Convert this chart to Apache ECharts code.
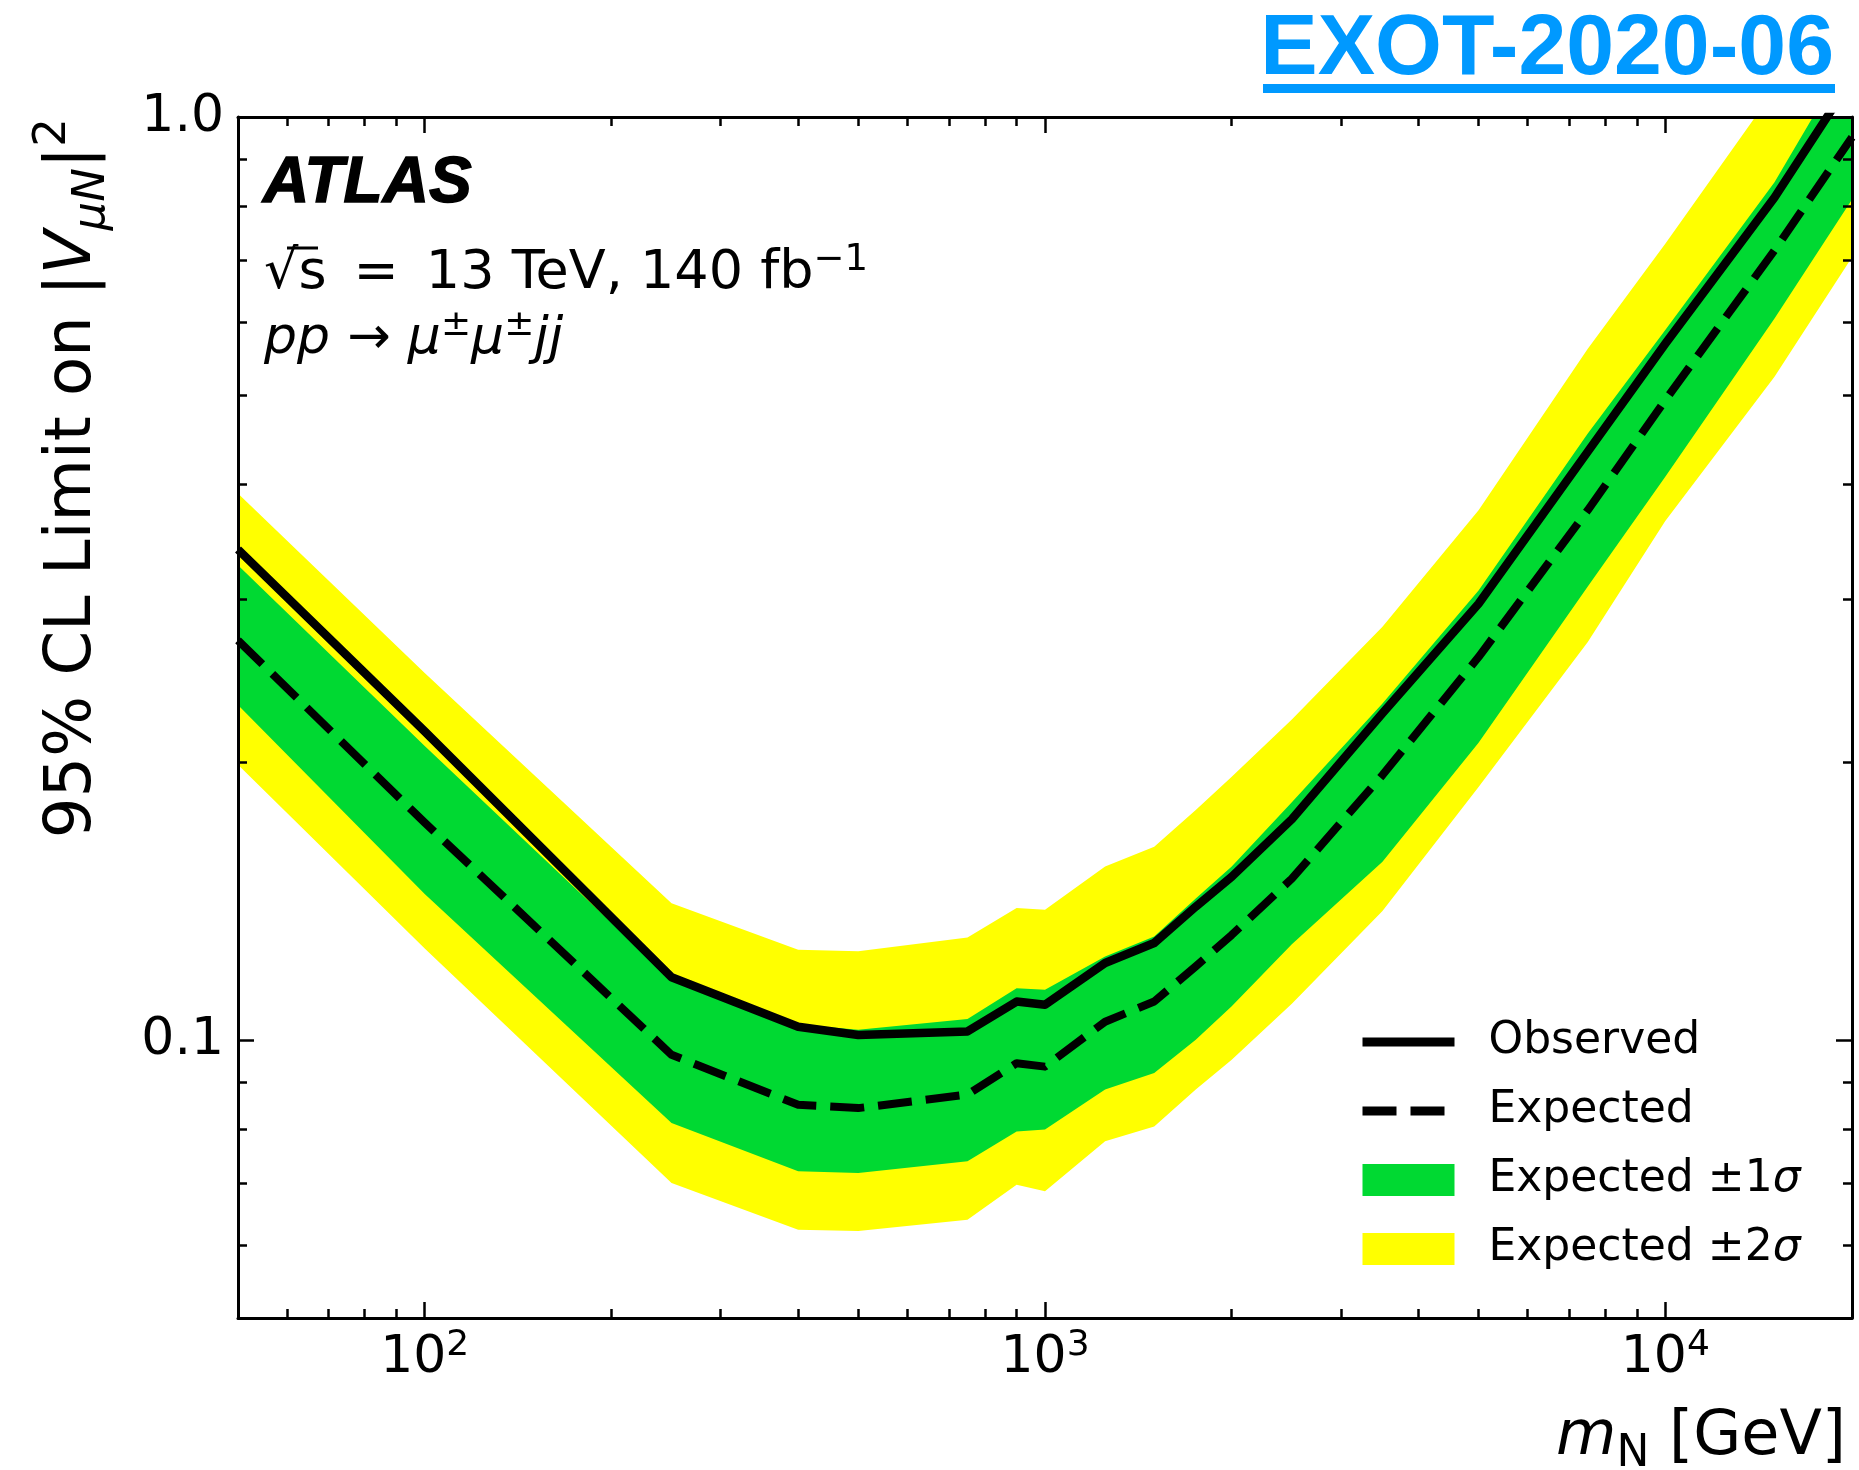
<!DOCTYPE html>
<html>
<head>
<meta charset="utf-8">
<title>EXOT-2020-06 limit on |V_muN|^2</title>
<script src="https://cdn.jsdelivr.net/npm/echarts@6.0.0/dist/echarts.min.js"></script>
<style>
  html, body { margin: 0; padding: 0; background: #ffffff; }
  #chart { width: 1859px; height: 1470px; }
</style>
</head>
<body>
<div id="chart"></div>
<script>
// heavy neutrino mass points [GeV]
const mass     = [50, 100, 250, 400, 500, 750, 900, 1000, 1250, 1500, 1750, 2000, 2500, 3500, 5000, 7500, 10000, 15000, 20000];
// 95% CL limits on |V_muN|^2
const observed = [0.340, 0.216, 0.117, 0.1034, 0.1013, 0.1022, 0.1101, 0.1092, 0.1212, 0.1274, 0.1395, 0.1503, 0.1735, 0.226, 0.297, 0.434, 0.568, 0.818, 1.10];
const expected = [0.271, 0.172, 0.0964, 0.0851, 0.0844, 0.0873, 0.0944, 0.0936, 0.1047, 0.1101, 0.1202, 0.130, 0.1496, 0.1937, 0.260, 0.375, 0.4935, 0.717, 0.951];
const plus1    = [0.327, 0.2083, 0.1163, 0.104, 0.1026, 0.1054, 0.1138, 0.1134, 0.1232, 0.1295, 0.1424, 0.1542, 0.181, 0.2316, 0.307, 0.454, 0.588, 0.850, 1.18];
const minus1   = [0.2307, 0.144, 0.0813, 0.0721, 0.0718, 0.0739, 0.0796, 0.080, 0.0884, 0.0921, 0.1001, 0.1088, 0.127, 0.156, 0.210, 0.310, 0.4076, 0.605, 0.814];
const plus2    = [0.391, 0.2498, 0.1407, 0.1253, 0.1248, 0.1292, 0.139, 0.1384, 0.1542, 0.162, 0.1775, 0.1929, 0.2225, 0.2804, 0.375, 0.561, 0.729, 1.07, 1.41];
const minus2   = [0.1987, 0.1257, 0.070, 0.0623, 0.0621, 0.0639, 0.0697, 0.0686, 0.0777, 0.0806, 0.0884, 0.0952, 0.1095, 0.138, 0.188, 0.270, 0.365, 0.523, 0.705];

// axis ticks
const xMajor = [100, 1000, 10000];
const xMinor = [60, 70, 80, 90, 200, 300, 400, 500, 600, 700, 800, 900, 2000, 3000, 4000, 5000, 6000, 7000, 8000, 9000];
const yMajor = [0.1, 1];
const yMinor = [0.06, 0.07, 0.08, 0.09, 0.2, 0.3, 0.4, 0.5, 0.6, 0.7, 0.8, 0.9];
const yTickLabels = ['0.1', '1.0'];

const xMin = 50, xMax = 20000, yMin = 0.05, yMax = 1;
const FONT = 'DejaVu Sans';
const GREEN = '#00d932', YELLOW = '#ffff00';

const chart = echarts.init(document.getElementById('chart'), null, { renderer: 'canvas' });
const lg = v => Math.log10(v);

// tick-only axes in log10 units laid over the log axes (ticks inside, on all 4 sides)
function tickAxis(dim, pos, values, len, withLine, label) {
    const ext = dim === 'x' ? [lg(xMin), lg(xMax)] : [lg(yMin), lg(yMax)];
    return {
        type: 'value', position: pos, min: ext[0], max: ext[1], z: 10,
        axisLine: { show: withLine, onZero: false, lineStyle: { color: '#000', width: 3 } },
        axisTick: { show: true, inside: true, length: len, customValues: values.map(lg),
                    lineStyle: { color: '#000', width: 2.5 } },
        axisLabel: label ? Object.assign({ customValues: values.map(lg) }, label) : { show: false },
        splitLine: { show: false }
    };
}

function bandRenderer(lo, hi) {
    return function (params, api) {
        if (params.dataIndex !== 0) return;
        const pts = [];
        for (let i = 0; i < mass.length; i++) pts.push(api.coord([mass[i], hi[i]]));
        for (let i = mass.length - 1; i >= 0; i--) pts.push(api.coord([mass[i], lo[i]]));
        return { type: 'polygon', shape: { points: pts }, style: { fill: api.visual('color') } };
    };
}

const xLabel = {
    margin: 10,
    formatter: v => '{b|10}{s|' + Math.round(v) + '}',
    rich: {
        b: { fontFamily: FONT, fontSize: 52, lineHeight: 60, color: '#000' },
        s: { fontFamily: FONT, fontSize: 36, lineHeight: 20, verticalAlign: 'top', color: '#000' }
    }
};
const yLabel = {
    margin: 14, fontFamily: FONT, fontSize: 52, color: '#000',
    formatter: v => yTickLabels[yMajor.findIndex(t => Math.abs(lg(t) - v) < 1e-6)]
};

const option = {
    animation: false,
    backgroundColor: '#ffffff',
    grid: { left: 238, right: 7, top: 117, bottom: 152 },
    xAxis: [
        { type: 'log', min: xMin, max: xMax, show: false, splitLine: { show: false } },
        tickAxis('x', 'bottom', xMajor, 16, true, xLabel),
        tickAxis('x', 'bottom', xMinor, 9, false),
        tickAxis('x', 'top', xMajor, 16, true),
        tickAxis('x', 'top', xMinor, 9, false)
    ],
    yAxis: [
        { type: 'log', min: yMin, max: yMax, show: false, splitLine: { show: false } },
        tickAxis('y', 'left', yMajor, 16, true, yLabel),
        tickAxis('y', 'left', yMinor, 9, false),
        tickAxis('y', 'right', yMajor, 16, true),
        tickAxis('y', 'right', yMinor, 9, false)
    ],
    legend: {
        orient: 'vertical', left: 1358, top: 1020, padding: 0,
        itemWidth: 92, itemHeight: 32, itemGap: 25, selectedMode: false,
        textStyle: {
            fontFamily: FONT, fontSize: 44, lineHeight: 44, color: '#000', padding: [0, 0, 0, 29],
            rich: { s: { fontFamily: FONT, fontSize: 44, lineHeight: 44, fontStyle: 'italic', color: '#000' } }
        },
        formatter: name => name.replace('σ', '{s|σ}'),
        data: [
            { name: 'Observed', itemStyle: { opacity: 0 }, lineStyle: { width: 9, color: '#000', type: 'solid' } },
            { name: 'Expected', itemStyle: { opacity: 0 }, lineStyle: { width: 9, color: '#000', type: [34, 14] } },
            { name: 'Expected ±1σ', icon: 'rect' },
            { name: 'Expected ±2σ', icon: 'rect' }
        ]
    },
    series: [
        {
            name: 'Expected ±2σ', type: 'custom', clip: true,
            itemStyle: { color: YELLOW },
            renderItem: bandRenderer(minus2, plus2),
            data: mass.map((m, i) => [m, minus2[i], plus2[i]]),
            encode: { x: 0, y: [1, 2] }
        },
        {
            name: 'Expected ±1σ', type: 'custom', clip: true,
            itemStyle: { color: GREEN },
            renderItem: bandRenderer(minus1, plus1),
            data: mass.map((m, i) => [m, minus1[i], plus1[i]]),
            encode: { x: 0, y: [1, 2] }
        },
        {
            name: 'Expected', type: 'line', symbol: 'none', color: '#000',
            lineStyle: { color: '#000', width: 8, type: [34, 14], join: 'round' },
            data: mass.map((m, i) => [m, expected[i]])
        },
        {
            name: 'Observed', type: 'line', symbol: 'none', color: '#000',
            lineStyle: { color: '#000', width: 8.5, join: 'round' },
            data: mass.map((m, i) => [m, observed[i]])
        }
    ],
    graphic: [
        { type: 'text', x: 1834, y: 50,
          style: { text: 'EXOT-2020-06', fontFamily: 'Liberation Sans', fontWeight: 'bold', fontSize: 86,
                   fill: '#0099ff', align: 'right', verticalAlign: 'middle' } },
        { type: 'rect', shape: { x: 1263, y: 84, width: 572, height: 9 }, style: { fill: '#0099ff' } },
        { type: 'text', x: 263, y: 184,
          style: { text: 'ATLAS', fontFamily: 'Liberation Sans', fontWeight: 'bold', fontStyle: 'italic',
                   fontSize: 64, fill: '#000', stroke: '#000', lineWidth: 1.5,
                   align: 'left', verticalAlign: 'middle' } },
        { type: 'text', x: 264, y: 274,
          style: { text: '{n|√s\u2002=\u200213 TeV, 140 fb}{sup|−1}', align: 'left', verticalAlign: 'middle',
                   rich: { n: { fontFamily: FONT, fontSize: 54, lineHeight: 64, fill: '#000' },
                           sup: { fontFamily: FONT, fontSize: 37, lineHeight: 22, verticalAlign: 'top', fill: '#000' } } } },
        { type: 'line', shape: { x1: 287, y1: 248, x2: 318, y2: 248 }, style: { stroke: '#000', lineWidth: 3 } },
        { type: 'text', x: 264, y: 339,
          style: { text: '{i|pp}{n|\u2004→\u2004}{i|μ}{sup|±}{i|μ}{sup|±}{i|jj}', align: 'left', verticalAlign: 'middle',
                   rich: { i: { fontFamily: FONT, fontSize: 52, fontStyle: 'italic', lineHeight: 62, fill: '#000' },
                           n: { fontFamily: FONT, fontSize: 52, lineHeight: 62, fill: '#000' },
                           sup: { fontFamily: FONT, fontSize: 36, lineHeight: 22, verticalAlign: 'top', fill: '#000' } } } },
        { type: 'text', x: 73, y: 118, rotation: Math.PI / 2,
          style: { text: '{n|95% CL Limit on |}{v|V}{sub|μN}{n||}{sup|2}', align: 'right', verticalAlign: 'middle',
                   rich: { n: { fontFamily: FONT, fontSize: 64, lineHeight: 84, fill: '#000' },
                           v: { fontFamily: FONT, fontSize: 64, fontStyle: 'italic', lineHeight: 84, fill: '#000' },
                           sub: { fontFamily: FONT, fontSize: 45, fontStyle: 'italic', lineHeight: 60, verticalAlign: 'bottom', fill: '#000' },
                           sup: { fontFamily: FONT, fontSize: 45, lineHeight: 42, verticalAlign: 'top', fill: '#000' } } } },
        { type: 'text', x: 1846, y: 1438,
          style: { text: '{i|m}{sub|N}{n| [GeV]}', align: 'right', verticalAlign: 'middle',
                   rich: { i: { fontFamily: FONT, fontSize: 62, fontStyle: 'italic', lineHeight: 78, fill: '#000' },
                           n: { fontFamily: FONT, fontSize: 62, lineHeight: 78, fill: '#000' },
                           sub: { fontFamily: FONT, fontSize: 44, lineHeight: 54, verticalAlign: 'bottom', fill: '#000' } } } }
    ]
};

chart.setOption(option);
</script>
</body>
</html>
